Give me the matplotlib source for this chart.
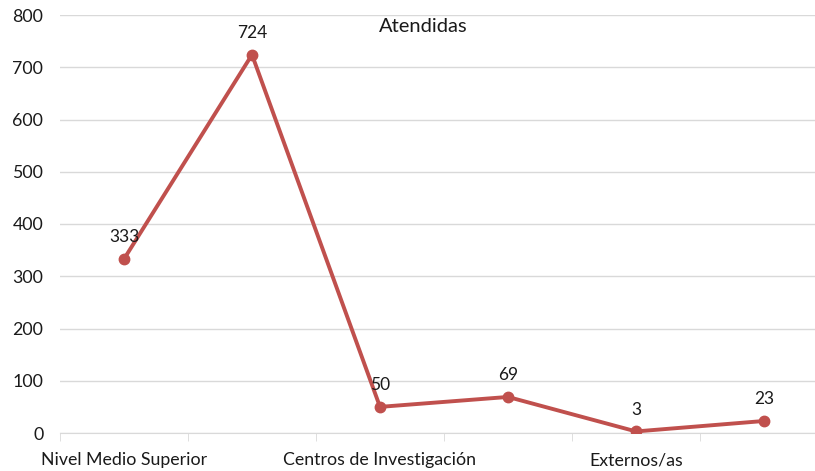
import numpy as np
import matplotlib.pyplot as plt

# DATA
categorias = ["Nivel Medio Superior", "", "Centros de Investigación", "", "Externos/as", ""]
atendidas = [333, 724, 50, 69, 3, 23]
y_ticks = [0, 100, 200, 300, 400, 500, 600, 700, 800]

plt.rcParams['font.family'] = ['Lato', 'DejaVu Sans']

fig = plt.figure(figsize=(8.15, 4.71), dpi=100)
# plot area runs a little past the right edge, as in the reference
ax = fig.add_axes([60 / 815, 38 / 471, 768 / 815, 418 / 471])

x = np.arange(len(atendidas))
ax.plot(x, atendidas, color='#C0504D', lw=2.8, marker='o', markersize=7.5,
        solid_capstyle='round', zorder=3)

for xi, v in zip(x, atendidas):
    ax.annotate(str(v), (xi, v), xytext=(0, 10), textcoords='offset points',
                ha='center', va='bottom', fontsize=12.5, color='#1a1a1a')

ax.set_xlim(-0.5, len(atendidas) - 0.5)
ax.set_ylim(0, 800)
ax.set_yticks(y_ticks)
ax.yaxis.grid(True, color='#D9D9D9', lw=1)
ax.set_axisbelow(True)

ax.set_xticks(x)
ax.set_xticklabels(categorias, fontsize=12.8, color='#1a1a1a')
ax.set_xticks(np.arange(-0.5, len(atendidas), 1), minor=True)
ax.tick_params(axis='x', which='major', length=0, pad=14)
ax.tick_params(axis='x', which='minor', length=6, color='#D9D9D9')
ax.tick_params(axis='y', length=0, labelsize=12.8, labelcolor='#1a1a1a', pad=12)

for s in ['top', 'right', 'left']:
    ax.spines[s].set_visible(False)
ax.spines['bottom'].set_color('#D9D9D9')

fig.text(423 / 815, 1 - 26 / 471, "Atendidas", ha='center', va='center',
         fontsize=14.5, color='#1a1a1a')

fig.savefig('out.png', dpi=100)
